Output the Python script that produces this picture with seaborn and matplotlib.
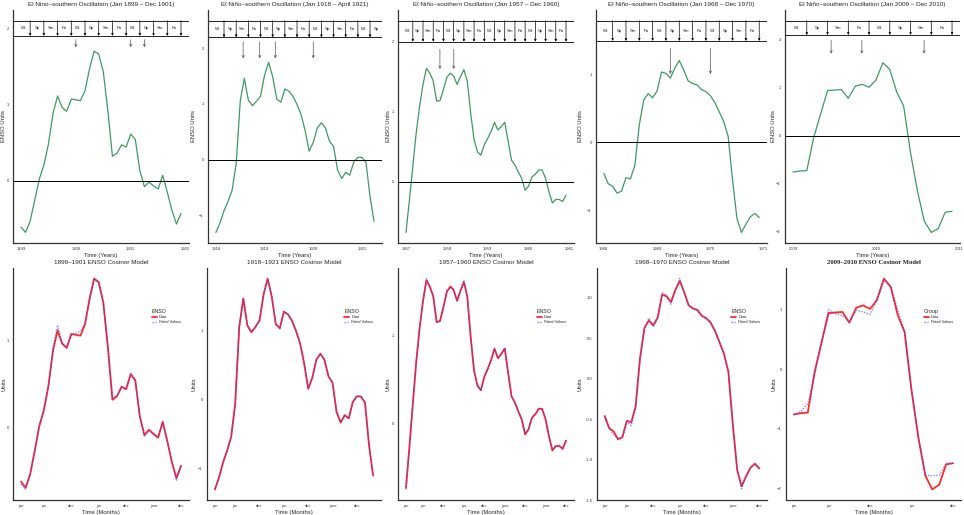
import numpy as np
import pandas as pd
import seaborn as sns
import matplotlib.pyplot as plt

sns.set_style("white")
plt.rcParams["font.family"] = ["Liberation Sans", "DejaVu Sans"]

# Monthly ENSO index values
enso_1899 = [-0.61, -0.68, -0.53, -0.26, 0.02, 0.20, 0.48, 0.88, 1.11, 0.96, 0.91, 1.07,
             1.06, 1.05, 1.18, 1.47, 1.70, 1.66, 1.43, 0.92, 0.32, 0.36, 0.47, 0.44,
             0.61, 0.54, 0.13, -0.08, -0.02, -0.07, -0.11, 0.07, -0.15, -0.39, -0.57, -0.43]
fit_1899 = [-0.64, -0.70, -0.52, -0.27, 0.03, 0.21, 0.47, 0.90, 1.17, 0.96, 0.92, 1.05,
            1.08, 1.10, 1.19, 1.46, 1.69, 1.65, 1.42, 0.94, 0.34, 0.37, 0.46, 0.45,
            0.63, 0.55, 0.12, -0.10, -0.04, -0.06, -0.10, 0.06, -0.14, -0.38, -0.60, -0.43]

enso_1918 = [-1.31, -1.14, -0.92, -0.75, -0.55, -0.07, 1.05, 1.46, 1.07, 0.97, 1.05, 1.14,
             1.52, 1.75, 1.49, 1.09, 1.03, 1.27, 1.23, 1.14, 0.99, 0.81, 0.52, 0.15,
             0.31, 0.57, 0.66, 0.57, 0.33, 0.24, -0.19, -0.34, -0.23, -0.28, -0.04, 0.04,
             0.04, -0.05, -0.67, -1.11]
fit_1918 = [-1.30, -1.13, -0.93, -0.74, -0.56, -0.08, 1.04, 1.45, 1.08, 0.98, 1.04, 1.15,
            1.51, 1.74, 1.50, 1.10, 1.02, 1.26, 1.24, 1.13, 1.00, 0.80, 0.53, 0.16,
            0.30, 0.58, 0.65, 0.58, 0.34, 0.23, -0.18, -0.33, -0.24, -0.27, -0.05, 0.05,
            0.03, -0.04, -0.66, -1.10]

enso_1957 = [-0.72, -0.26, 0.22, 0.70, 1.08, 1.39, 1.62, 1.55, 1.44, 1.15, 1.16, 1.32,
             1.49, 1.55, 1.51, 1.39, 1.50, 1.60, 1.44, 0.98, 0.60, 0.43, 0.38, 0.53,
             0.62, 0.72, 0.85, 0.74, 0.79, 0.85, 0.58, 0.31, 0.24, 0.14, 0.05, -0.12,
             -0.06, 0.07, 0.11, 0.17, 0.17, 0.05, -0.14, -0.30, -0.25, -0.25, -0.28, -0.19]
fit_1957 = [-0.74, -0.27, 0.23, 0.69, 1.09, 1.38, 1.64, 1.54, 1.45, 1.14, 1.17, 1.31,
            1.50, 1.54, 1.52, 1.38, 1.51, 1.62, 1.43, 0.99, 0.59, 0.44, 0.37, 0.54,
            0.61, 0.73, 0.84, 0.75, 0.78, 0.86, 0.57, 0.32, 0.23, 0.15, 0.04, -0.11,
            -0.07, 0.08, 0.10, 0.18, 0.16, 0.06, -0.15, -0.29, -0.26, -0.24, -0.29, -0.19]

enso_1968 = [-0.46, -0.61, -0.65, -0.75, -0.72, -0.52, -0.54, -0.34, 0.26, 0.63, 0.72, 0.66,
             0.76, 1.04, 1.02, 0.95, 1.10, 1.21, 1.07, 0.91, 0.87, 0.85, 0.78, 0.75,
             0.69, 0.59, 0.45, 0.31, 0.09, -0.56, -1.13, -1.33, -1.21, -1.10, -1.05, -1.11]
fit_1968 = [-0.47, -0.62, -0.69, -0.74, -0.74, -0.53, -0.58, -0.35, 0.25, 0.62, 0.75, 0.65,
            0.75, 1.07, 1.03, 0.92, 1.09, 1.24, 1.06, 0.90, 0.86, 0.84, 0.77, 0.74,
            0.71, 0.58, 0.46, 0.30, 0.07, -0.57, -1.12, -1.36, -1.20, -1.10, -1.06, -1.11]

enso_2009 = [-0.76, -0.74, -0.73, -0.04, 0.45, 0.94, 0.95, 0.96, 0.78, 1.03, 1.07, 1.01,
             1.16, 1.52, 1.38, 0.91, 0.62, -0.36, -1.16, -1.79, -2.02, -1.94, -1.60, -1.58]
fit_2009 = [-0.77, -0.71, -0.58, -0.10, 0.47, 1.00, 0.93, 0.90, 0.79, 0.99, 0.96, 0.92,
            1.16, 1.49, 1.38, 0.99, 0.63, -0.36, -1.14, -1.78, -1.79, -1.78, -1.58, -1.58]

enso_series = [enso_1899, enso_1918, enso_1957, enso_1968, enso_2009]
fit_series = [fit_1899, fit_1918, fit_1957, fit_1968, fit_2009]
start_years = [1899, 1918, 1957, 1968, 2009]

# influenza outbreak onsets (fractional years)
outbreaks = [[1900.0, 1901.0, 1901.25],
             [1918.56, 1918.9, 1919.22, 1920.0],
             [1957.83, 1958.17],
             [1969.25, 1970.0],
             [2009.46, 2009.83, 2010.58]]

top_titles = ["El Nino\u2013southern Oscillation (Jan 1899 \u2013 Dec 1901)",
              "El Ni\u00f1o\u2013southern Oscillation (Jan 1918 \u2013 April 1921)",
              "El Ni\u00f1o\u2013southern Oscillation (Jan 1957 \u2013 Dec 1960)",
              "El Ni\u00f1o\u2013southern Oscillation (Jan 1968 \u2013 Dec 1970)",
              "El Ni\u00f1o\u2013southern Oscillation (Jan 2009 \u2013 Dec 2010)"]
bottom_titles = ["1899\u20131901 ENSO Cosinor Model", "1918\u20131921 ENSO Cosinor Model",
                 "1957\u20131960 ENSO Cosinor Model", "1968\u20131970 ENSO Cosinor Model",
                 "2009\u20132010 ENSO Cosinor Model"]
legend_titles = ["ENSO", "ENSO", "ENSO", "ENSO", "Group"]
season_names = ["Wt", "Sp", "Sm", "Fa"]
month_ticks = [0, 5, 11, 17, 23, 29, 35, 41, 47]
month_labels = ["jan", "jun", "dec", "jun", "dec", "june", "dec", "june", "dec"]
top_yticks = [[0, 1, 2], [-1, 0, 1, 2], [0, 1, 2], [-1, 0, 1], [-2, -1, 0, 1, 2]]
bottom_yticks = [[0, 1], [-1, 0, 1], [0, 1], [-1.5, -1.0, -0.5, 0.0, 0.5, 1.0], [-2, -1, 0, 1]]

# layout / style
W, H = 964, 515
col_left = [0, 190, 385, 577, 770]
top_px = [(13, 189), (208, 382), (398, 574), (596, 767), (785, 960)]
bot_px = [(13, 189), (207, 381), (398, 574), (597, 767), (786, 961)]
box_y = [(1.9, 2.1), (2.2, 2.5), (2.0, 2.3), (1.5, 1.8), (2.1, 2.4)]
arrow_y = [(1.85, 1.75), (2.12, 1.82), (1.89, 1.61), (1.39, 1.01), (1.99, 1.71)]
green = "#3f9a62"
tick_fs = 3.0


def style_axes(ax, left_px, col):
    sns.despine(ax=ax)
    for s in ["left", "bottom"]:
        ax.spines[s].set_linewidth(0.9)
        ax.spines[s].set_color("#333333")
    ax.tick_params(labelsize=tick_fs, length=1.5, width=0.5, pad=1.5, colors="#333333")
    ax.yaxis.set_label_coords((col + 6 - left_px) / (ax.get_position().width * W), 0.5)


fig = plt.figure(figsize=(W / 100, H / 100), dpi=100)

for k in range(5):
    vals = enso_series[k]
    n = len(vals)
    start = start_years[k]

    # ---------- top row: ENSO index with season boxes ----------
    l, r = top_px[k]
    ax = fig.add_axes([l / W, 1 - 243 / H, (r - l) / W, 233 / H])
    df = pd.DataFrame({"year": start + np.arange(n) / 12, "enso": vals})
    sns.lineplot(data=df, x="year", y="enso", ax=ax, color=green, lw=0.9)
    ax.axhline(0, color="black", lw=0.7)
    lo, hi = min(vals), box_y[k][1]
    ax.set_ylim(lo - 0.05 * (hi - lo), hi + 0.05 * (hi - lo))
    x0, x1 = df.year.iloc[0], df.year.iloc[-1]
    xl, xr = x0 - 0.05 * (x1 - x0), x1 + 0.05 * (x1 - x0)
    ax.set_xlim(xl, xr)

    b0, b1 = box_y[k]
    ax.axhline(b0, color="black", lw=0.6)
    ax.axhline(b1, color="black", lw=0.6)
    for i in range(2, n, 3):
        xa = start + i / 12
        ax.annotate("", xy=(xa, b0), xytext=(xa, b1),
                    arrowprops=dict(arrowstyle="-|>", lw=0.5, color="black",
                                    mutation_scale=3, shrinkA=0, shrinkB=0))
    j = 0
    while True:
        c = start + (3 * j + 0.5) / 12
        if c + 1 / 12 >= xr:
            break
        ax.text(c, (b0 + b1) / 2, season_names[j % 4], fontsize=3.2,
                ha="center", va="center")
        j += 1
    a0, a1 = arrow_y[k]
    for xo in outbreaks[k]:
        ax.annotate("", xy=(xo, a1), xytext=(xo, a0),
                    arrowprops=dict(arrowstyle="->", lw=0.5, color="#555555",
                                    mutation_scale=4, shrinkA=0, shrinkB=0))

    ax.set_xticks(range(start, int(np.floor(xr)) + 1))
    ax.set_yticks(top_yticks[k])
    ax.set_title(top_titles[k], fontsize=4.6, pad=3)
    ax.set_xlabel("Time (Years)", fontsize=4.2, labelpad=1)
    ax.set_ylabel("ENSO Units", fontsize=4.2)
    style_axes(ax, l, col_left[k])

    # ---------- bottom row: cosinor model fit ----------
    l, r = bot_px[k]
    ax = fig.add_axes([l / W, 1 - 500 / H, (r - l) / W, 232 / H])
    fit = fit_series[k]
    long = pd.DataFrame({
        "month": np.tile(np.arange(n), 2),
        "value": list(vals) + list(fit),
        "series": ["Data"] * n + ["Fitted Values"] * n,
    })
    sns.lineplot(data=long, x="month", y="value", hue="series", style="series",
                 palette={"Data": "#ff2b2b", "Fitted Values": "#3b3bff"},
                 dashes={"Data": "", "Fitted Values": (1, 1)},
                 size="series", sizes={"Data": 1.3, "Fitted Values": 1.0},
                 ax=ax)
    for line in ax.lines:
        if line.get_color() == "#3b3bff":
            line.set_alpha(0.6)
    lo = min(min(vals), min(fit))
    hi = max(max(vals), max(fit))
    ax.set_ylim(lo - 0.05 * (hi - lo), hi + 0.05 * (hi - lo))
    ax.set_xlim(-0.05 * (n - 1), (n - 1) * 1.05)
    ticks = [t for t in month_ticks if t < n]
    ax.set_xticks(ticks)
    ax.set_xticklabels(month_labels[:len(ticks)])
    ax.set_yticks(bottom_yticks[k])
    if k == 3:
        ax.set_yticklabels([f"{v:.1f}" for v in bottom_yticks[k]])
    if k == 4:
        ax.set_title(bottom_titles[k], fontsize=4.8, pad=3, family="Liberation Serif",
                     weight="bold")
    else:
        ax.set_title(bottom_titles[k], fontsize=4.6, pad=3)
    ax.set_xlabel("Time (Months)", fontsize=4.2, labelpad=1)
    ax.set_ylabel("Units", fontsize=4.2)
    handles, labels = ax.get_legend_handles_labels()
    leg = ax.legend(handles, labels, title=legend_titles[k], loc="upper left",
                    bbox_to_anchor=(0.78, 0.83), frameon=False, fontsize=2.8,
                    title_fontsize=3.8, handlelength=1.3, handletextpad=0.5,
                    labelspacing=0.3, borderaxespad=0)
    leg._legend_box.align = "left"
    style_axes(ax, l, col_left[k])

fig.savefig("out.png", dpi=100)
